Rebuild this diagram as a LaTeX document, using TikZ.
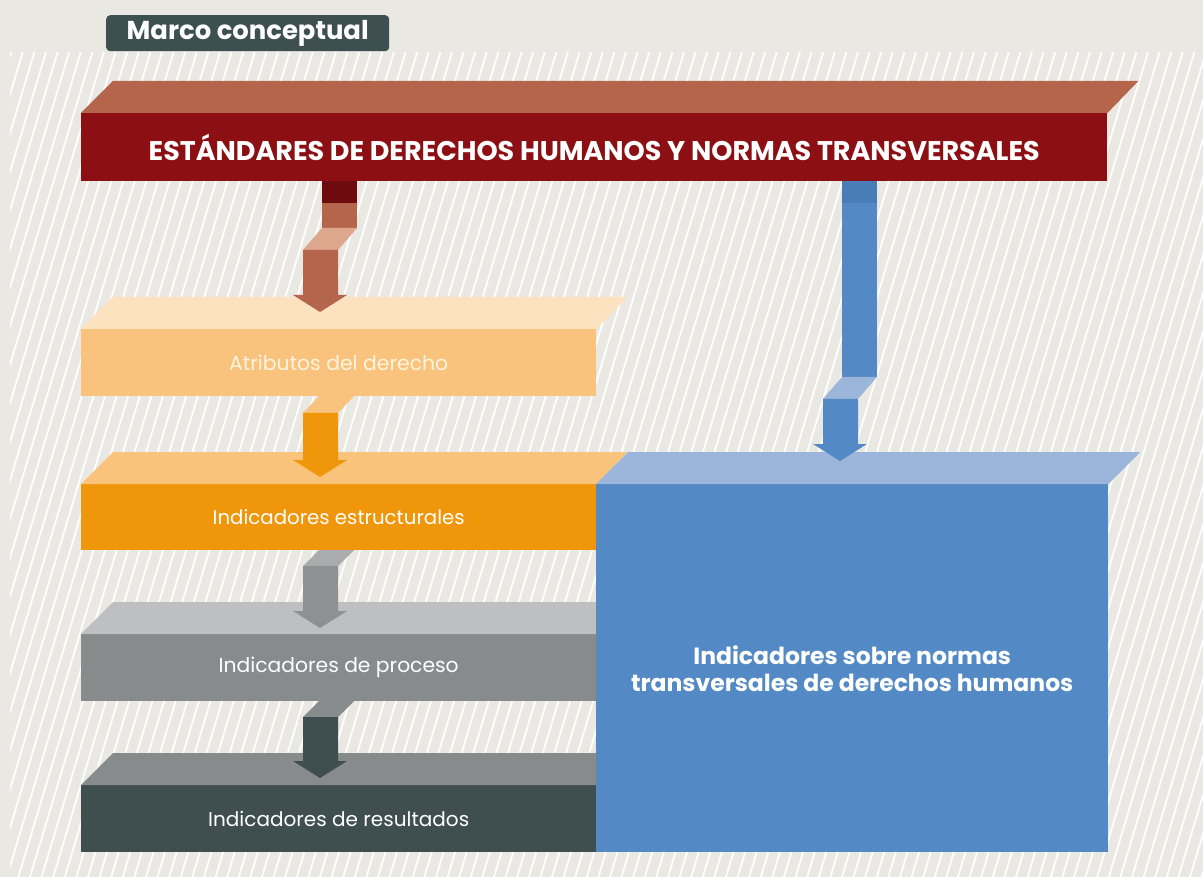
\documentclass[tikz,border=0pt]{standalone}
\usepackage{fontspec}
\setmainfont{Poppins}
\usetikzlibrary{calc}
\definecolor{bgc}{HTML}{E9E8E3}
\definecolor{redfront}{HTML}{8C0F13}
\definecolor{redtop}{HTML}{B5654B}
\definecolor{reddark}{HTML}{6D0B0E}
\definecolor{redlight}{HTML}{DDA78E}
\definecolor{atrtop}{HTML}{FCE2BF}
\definecolor{atrfront}{HTML}{F9C27D}
\definecolor{esttop}{HTML}{F9C37B}
\definecolor{estfront}{HTML}{F0960B}
\definecolor{protop}{HTML}{BDBFC0}
\definecolor{profront}{HTML}{878B8B}
\definecolor{grayshaft}{HTML}{8E9091}
\definecolor{grayslant}{HTML}{A9ABAC}
\definecolor{restop}{HTML}{878B8B}
\definecolor{resfront}{HTML}{3F4F50}
\definecolor{bluefront}{HTML}{5389C4}
\definecolor{bluetop}{HTML}{9CB5DB}
\definecolor{bluedark}{HTML}{4A7CB6}
\definecolor{badgec}{HTML}{3E4F51}
\definecolor{cream}{HTML}{FFF4DE}
\newcommand\topface[3]{\fill[#3] (#1.north west) -- ++(32,-32) -- ($(#1.north east)+(#2,-32)$) -- (#1.north east) -- cycle;}
\newcommand\flowhead[3]{\fill[#3] (#1) -- ++(-27,-17) -- ++(10,0) -- ++(0,-#2) -- ++(35,0) -- ++(0,#2) -- ++(9,0) -- cycle;}
\newcommand\flowslant[4]{\fill[#4] (#1) -- ++(35,0) -- ++(#2,-#3) -- ++(-35,0) -- cycle;}
\begin{document}
\begin{tikzpicture}[x=1pt,y=-1pt,
  face/.style={rectangle, inner sep=0pt, anchor=north west, text=white},
  hatchline/.style={white, line width=1.8pt}]
\useasboundingbox (0,0) rectangle (1203,877);
\fill[bgc] (0,0) rectangle (1203,877);
\begin{scope}
  \clip (10,52) rectangle (1203,877);
  \foreach \i in {-260,-248.4,...,1215} \draw[hatchline] (\i,877) -- ++(248,-825);
\end{scope}
% title
\node[face, fill=badgec, rounded corners=4pt, minimum width=283pt, minimum height=36pt] (title) at (106,15) {\resizebox{242pt}{!}{\bfseries Marco conceptual}};
% top bar
\node[face, fill=redfront, minimum width=1026pt, minimum height=68pt] (std) at (81,113) {\resizebox{891pt}{!}{\bfseries ESTÁNDARES DE DERECHOS HUMANOS Y NORMAS TRANSVERSALES}};
\topface{std}{31}{redtop}
% atributos
\node[face, fill=atrfront, minimum width=515pt, minimum height=67pt, text=cream] (atr) at (81,329) {\resizebox{219pt}{!}{Atributos del derecho}};
\topface{atr}{31}{atrtop}
% estructurales
\node[face, fill=estfront, minimum width=515pt, minimum height=66pt] (est) at (81,484) {\resizebox{252pt}{!}{Indicadores estructurales}};
\topface{est}{31}{esttop}
% proceso
\node[face, fill=profront, minimum width=515pt, minimum height=67pt] (pro) at (81,634) {\resizebox{240pt}{!}{Indicadores de proceso}};
\topface{pro}{31}{protop}
% resultados
\node[face, fill=resfront, minimum width=515pt, minimum height=67pt] (res) at (81,785) {\resizebox{261pt}{!}{Indicadores de resultados}};
\topface{res}{31}{restop}
% blue box
\node[face, fill=bluefront, minimum width=512pt, minimum height=368pt, align=center, font=\bfseries\fontsize{23.5}{27}\selectfont] (blu) at (596,484) {Indicadores sobre normas\\transversales de derechos humanos};
\topface{blu}{32}{bluetop}
% arrow std -> atr
\coordinate (t1) at ($(atr.north west)+(239,-17)$);
\fill[reddark] ($(std.south west)+(241,0)$) rectangle ++(35,22);
\fill[redtop] ($(std.south west)+(241,22)$) rectangle ++(35,25);
\flowslant{$(t1)+(-17,-62)$}{19}{22}{redlight}
\flowhead{t1}{45}{redtop}
% arrow atr -> est
\coordinate (t2) at ($(est.north west)+(239,-7)$);
\flowslant{$(t2)+(-17,-64)$}{16}{17}{atrfront}
\flowhead{t2}{47}{estfront}
% arrow est -> pro
\coordinate (t3) at ($(pro.north west)+(239,-6)$);
\flowslant{$(t3)+(-17,-62)$}{16}{16}{grayslant}
\flowhead{t3}{45}{grayshaft}
% arrow pro -> res
\coordinate (t4) at ($(res.north west)+(239,-7)$);
\flowslant{$(t4)+(-17,-61)$}{16}{16}{profront}
\flowhead{t4}{44}{resfront}
% arrow std -> blu
\coordinate (tb) at ($(blu.north west)+(244,-23)$);
\fill[bluedark] ($(std.south west)+(761,0)$) rectangle ++(35,22);
\fill[bluefront] ($(std.south west)+(761,22)$) rectangle ++(35,174);
\flowslant{$(tb)+(-17,-62)$}{19}{22}{bluetop}
\flowhead{tb}{45}{bluefront}
\end{tikzpicture}
\end{document}
